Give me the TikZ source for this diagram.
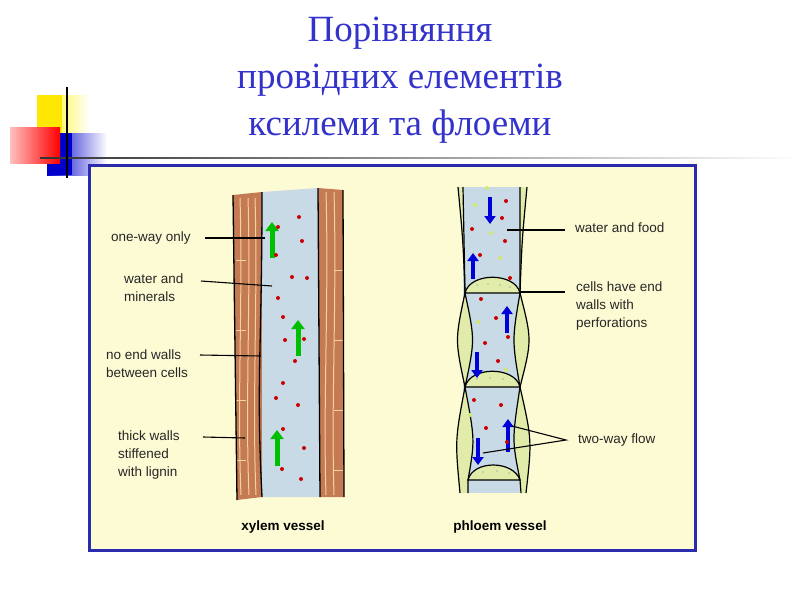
\documentclass[tikz,border=0pt]{standalone}
\usepackage{fontspec}
\setmainfont{Liberation Serif}
\newfontfamily\lab{Liberation Sans}
\usetikzlibrary{arrows.meta}
\definecolor{ttl}{RGB}{51,51,204}
\definecolor{lumen}{RGB}{200,218,230}
\definecolor{wood}{RGB}{196,122,82}
\definecolor{cream}{RGB}{245,210,160}
\definecolor{pgreen}{RGB}{225,235,170}
\definecolor{bg}{RGB}{253,251,212}
\begin{document}
\begin{tikzpicture}[x=1pt,y=-1pt,
  lbl/.style={font=\lab\fontsize{13.5}{18}\selectfont, align=left, anchor=west, inner sep=0, text=black!85},
  vcap/.style={font=\lab\bfseries\fontsize{13.5}{16}\selectfont, inner sep=0},
  ln/.style={black, line width=1.1pt},
  rdot/.style={fill=red!80!black},
  ydot/.style={fill=yellow!70!green!60},
  garrow/.style={-{Triangle[length=9pt,width=13pt]}, line width=5pt, green!75!black},
  barrow/.style={-{Triangle[length=8pt,width=11pt]}, line width=3.5pt, blue!85!black}]
\useasboundingbox (0,0) rectangle (800,600);
\fill[white] (0,0) rectangle (800,600);
% logo
\shade[left color=yellow!90!orange, right color=white] (37,95) rectangle (90,134);
\fill[yellow!90!orange] (37,95) rectangle (62,134);
\shade[left color=blue!80!black, right color=white] (47,133) rectangle (107,175);
\fill[blue!80!black] (47,133) rectangle (72,175);
\shade[left color=red!25, right color=red] (10,127) rectangle (60,163);
\shade[left color=black!80, right color=white] (40,157) rectangle (800,158.5);
\draw[line width=1.3pt] (67,87) -- (67,178);
% title
\node[font=\fontsize{37}{47}\selectfont, text=ttl, align=center] (title) at (400,80)
 {Порівняння\\провідних елементів\\ксилеми та флоеми};
% box
\draw[line width=3pt, draw=ttl!85!black, fill=bg] (89,165) rectangle (695,550);
% xylem
\fill[wood] (233,195) -- (262,192) -- (262,497) -- (237,500) -- cycle;
\fill[wood] (318,188) -- (343,190) -- (344,497) -- (320,497) -- cycle;
\fill[lumen] (262,192) -- (318,188) -- (320,497) -- (262,497) -- cycle;
\foreach \x in {240,248,255}{\draw[cream, line width=1pt] (\x,198) .. controls (\x+3,300) and (\x-3,400) .. (\x+1,495);}
\foreach \x in {326,334}{\draw[cream, line width=1pt] (\x,192) .. controls (\x+3,300) and (\x-3,400) .. (\x,495);}
\foreach \y in {260,330,400,460}{\draw[cream, line width=1pt] (236,\y) -- (246,\y) (334,\y+10) -- (343,\y+10);}
\draw[line width=1.3pt] (233,195) -- (237,500) (262,192) .. controls (262,350) and (256,380) .. (262,497)
 (318,188) -- (320,497) (343,190) -- (344,497);
\draw[garrow] (272,258) -- (272,222);
\draw[garrow] (298,356) -- (298,320);
\draw[garrow] (277,466) -- (277,430);
\foreach \p in {(299,217),(302,241),(292,277),(307,278),(278,298),(283,317),(285,340),(304,339),(295,361),(283,383),(276,398),(298,405),(283,429),(304,448),(282,469),(301,479),(278,227),(276,255)}{\fill[rdot] \p circle (2pt);}
\node[vcap] (xcap) at (283,527) {xylem vessel};
% xylem labels
\node[lbl] (l1) at (111,238) {one-way only};
\node[lbl] (l2) at (124,288) {water and\\minerals};
\node[lbl] (l3) at (106,364) {no end walls\\between cells};
\node[lbl] (l4) at (118,455) {thick walls\\stiffened\\with lignin};
\coordinate (t1) at (265,238); \coordinate (t2) at (272,286);
\coordinate (t3) at (261,356); \coordinate (t4) at (245,438);
\draw[ln] (205,238) -- (t1);
\draw[ln] (201,281) -- (t2);
\draw[ln] (200,355) -- (t3);
\draw[ln] (203,437) -- (t4);
% phloem
\fill[lumen] (463,187) rectangle (520,493);
\fill[pgreen] (458,187) .. controls (463,240) .. (465,293) -- (463,187) -- cycle;
\fill[pgreen] (527,187) .. controls (522,240) .. (520,293) -- (520,187) -- cycle;
\fill[pgreen] (465,293) .. controls (455,340) .. (465,387) .. controls (475,340) .. (465,293);
\fill[pgreen] (465,387) .. controls (455,440) .. (460,493) -- (468,493) -- (468,480) .. controls (475,440) .. (465,387);
\fill[pgreen] (520,293) .. controls (512,340) .. (520,387) .. controls (532,340) .. (520,293);
\fill[pgreen] (520,387) .. controls (512,440) .. (520,480) -- (521,493) -- (526,493) .. controls (532,440) .. (520,387);
\fill[pgreen] (465,293) .. controls (470,272) and (515,272) .. (520,293) -- cycle;
\fill[pgreen] (465,387) .. controls (470,366) and (515,366) .. (520,387) -- cycle;
\fill[pgreen] (468,480) .. controls (473,460) and (513,460) .. (520,480) -- cycle;
\draw[line width=1.2pt] (458,187) .. controls (463,240) .. (465,293) .. controls (455,340) .. (465,387) .. controls (455,440) .. (460,493);
\draw[line width=1.2pt] (463,187) -- (465,293) .. controls (475,340) .. (465,387) .. controls (475,440) .. (468,480) -- (468,493);
\draw[line width=1.2pt] (520,187) -- (520,293) .. controls (512,340) .. (520,387) .. controls (512,440) .. (520,480) -- (521,493);
\draw[line width=1.2pt] (527,187) .. controls (522,240) .. (520,293) .. controls (532,340) .. (520,387) .. controls (532,440) .. (526,493);
\draw[line width=1.2pt] (465,293) .. controls (470,272) and (515,272) .. (520,293) -- cycle;
\draw[line width=1.2pt] (465,387) .. controls (470,366) and (515,366) .. (520,387) -- cycle;
\draw[line width=1.2pt] (468,480) .. controls (473,460) and (513,460) .. (520,480) -- cycle;
\foreach \p in {(477,285),(488,284),(500,285),(510,287),(477,379),(490,378),(503,379),(483,472),(497,471),(509,473)}{\fill[green!40!black!40] \p circle (0.9pt);}
\draw[barrow] (490,197) -- (490,224);
\draw[barrow] (473,279) -- (473,253);
\draw[barrow] (507,333) -- (507,306);
\draw[barrow] (477,352) -- (477,378);
\draw[barrow] (508,452) -- (508,419);
\draw[barrow] (478,438) -- (478,465);
\foreach \p in {(506,201),(502,218),(472,229),(505,241),(480,255),(510,278),(481,299),(496,318),(508,337),(485,343),(498,361),(474,400),(501,405),(486,428),(507,442)}{\fill[rdot] \p circle (2pt);}
\foreach \p in {(487,188),(475,205),(491,233),(500,258),(478,322),(506,370),(470,415)}{\fill[ydot] \p circle (2pt);}
\node[vcap] (pcap) at (500,527) {phloem vessel};
\node[lbl] (r1) at (575,228) {water and food};
\node[lbl] (r2) at (576,306) {cells have end\\walls with\\perforations};
\node[lbl] (r3) at (578,440) {two-way flow};
\coordinate (s1) at (507,230); \coordinate (s2) at (520,292);
\coordinate (s3) at (512,426); \coordinate (s4) at (483,453);
\coordinate (s5) at (566,440);
\draw[ln] (s1) -- (565,230);
\draw[ln] (s2) -- (565,292);
\draw[ln] (s3) -- (s5) -- (s4);
\end{tikzpicture}
\end{document}
